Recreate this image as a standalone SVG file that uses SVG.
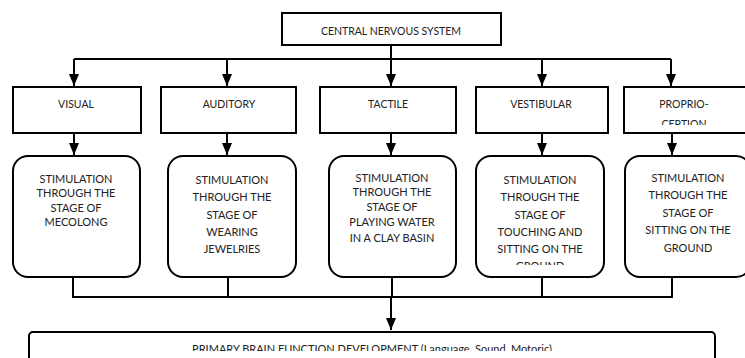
<svg xmlns="http://www.w3.org/2000/svg" width="745" height="358" viewBox="0 0 745 358">
<style>
.box{fill:#fff;stroke:#000;stroke-width:2}
.t{font-family:Lato,"Liberation Sans",sans-serif;font-size:11px;fill:#222;text-anchor:middle}
.h{font-size:10.5px}
.ln{fill:none;stroke:#000;stroke-width:2}
</style>
<defs>
<marker id="ah" markerWidth="12" markerHeight="10" refX="12" refY="5" orient="auto" markerUnits="userSpaceOnUse" viewBox="0 0 12 10">
<path d="M0,0 L12,5 L0,10 Z" fill="#000"/>
</marker>
<clipPath id="cProp"><rect x="620" y="85" width="130" height="40"/></clipPath>
<clipPath id="cVest"><rect x="470" y="150" width="140" height="115"/></clipPath>
<clipPath id="cBot"><rect x="0" y="330" width="745" height="21"/></clipPath>
</defs>
<rect width="745" height="358" fill="#fff"/>
<g id="connectors">
<path class="ln" d="M391,45 V59"/>
<path class="ln" d="M74,59 H671"/>
<path class="ln" d="M74,59 V86" marker-end="url(#ah)"/>
<path class="ln" d="M227,59 V86" marker-end="url(#ah)"/>
<path class="ln" d="M391,59 V86" marker-end="url(#ah)"/>
<path class="ln" d="M542,59 V86" marker-end="url(#ah)"/>
<path class="ln" d="M671,59 V86" marker-end="url(#ah)"/>
<path class="ln" d="M74,133 V155" marker-end="url(#ah)"/>
<path class="ln" d="M227,133 V155" marker-end="url(#ah)"/>
<path class="ln" d="M391,133 V155" marker-end="url(#ah)"/>
<path class="ln" d="M542,133 V155" marker-end="url(#ah)"/>
<path class="ln" d="M672,133 V155" marker-end="url(#ah)"/>
<path class="ln" d="M73,277 V297 H672 V277"/>
<path class="ln" d="M228,277 V297"/>
<path class="ln" d="M392,277 V297"/>
<path class="ln" d="M542,277 V297"/>
<path class="ln" d="M391,297 V330" marker-end="url(#ah)"/>
</g>
<g id="cns">
<rect class="box" x="282" y="13" width="219" height="32"/>
<text class="t h" x="391" y="35">CENTRAL NERVOUS SYSTEM</text>
</g>
<g id="visual">
<rect class="box" x="13" y="87" width="128" height="46"/>
<text class="t h" x="76" y="108">VISUAL</text>
</g>
<g id="auditory">
<rect class="box" x="161" y="87" width="135" height="46"/>
<text class="t h" x="229" y="108">AUDITORY</text>
</g>
<g id="tactile">
<rect class="box" x="320" y="87" width="136" height="46"/>
<text class="t h" x="388" y="108">TACTILE</text>
</g>
<g id="vestibular">
<rect class="box" x="476" y="87" width="132" height="46"/>
<text class="t h" x="541" y="108">VESTIBULAR</text>
</g>
<g id="proprioception">
<rect class="box" x="624" y="87" width="130" height="46"/>
<g clip-path="url(#cProp)">
<text class="t h" x="684" y="108">PROPRIO-</text>
<text class="t h" x="684" y="128">CEPTION</text>
</g>
</g>
<g id="stim-visual">
<rect class="box" x="13" y="156" width="127" height="121" rx="15"/>
<text class="t"><tspan x="76" y="183">STIMULATION</tspan><tspan x="76" y="197">THROUGH THE</tspan><tspan x="76" y="212">STAGE OF</tspan><tspan x="76" y="226">MECOLONG</tspan></text>
</g>
<g id="stim-auditory">
<rect class="box" x="168" y="156" width="128" height="121" rx="15"/>
<text class="t"><tspan x="232" y="184">STIMULATION</tspan><tspan x="232" y="201">THROUGH THE</tspan><tspan x="232" y="219">STAGE OF</tspan><tspan x="232" y="236">WEARING</tspan><tspan x="232" y="253">JEWELRIES</tspan></text>
</g>
<g id="stim-tactile">
<rect class="box" x="329" y="156" width="127" height="121" rx="15"/>
<text class="t"><tspan x="392" y="182">STIMULATION</tspan><tspan x="392" y="196">THROUGH THE</tspan><tspan x="392" y="211">STAGE OF</tspan><tspan x="392" y="226">PLAYING WATER</tspan><tspan x="392" y="242">IN A CLAY BASIN</tspan></text>
</g>
<g id="stim-vestibular">
<rect class="box" x="476" y="156" width="128" height="121" rx="15"/>
<text class="t" clip-path="url(#cVest)"><tspan x="540" y="184">STIMULATION</tspan><tspan x="540" y="201">THROUGH THE</tspan><tspan x="540" y="219">STAGE OF</tspan><tspan x="540" y="236">TOUCHING AND</tspan><tspan x="540" y="253">SITTING ON THE</tspan><tspan x="540" y="270">GROUND</tspan></text>
</g>
<g id="stim-proprioception">
<rect class="box" x="625" y="156" width="126" height="121" rx="15"/>
<text class="t"><tspan x="688" y="182">STIMULATION</tspan><tspan x="688" y="199">THROUGH THE</tspan><tspan x="688" y="217">STAGE OF</tspan><tspan x="688" y="234">SITTING ON THE</tspan><tspan x="688" y="252">GROUND</tspan></text>
</g>
<g id="primary">
<rect class="box" x="29" y="332" width="686" height="40" rx="4"/>
<text class="t" x="372" y="353" clip-path="url(#cBot)">PRIMARY BRAIN FUNCTION DEVELOPMENT (Language, Sound, Motoric)</text>
</g>
</svg>
